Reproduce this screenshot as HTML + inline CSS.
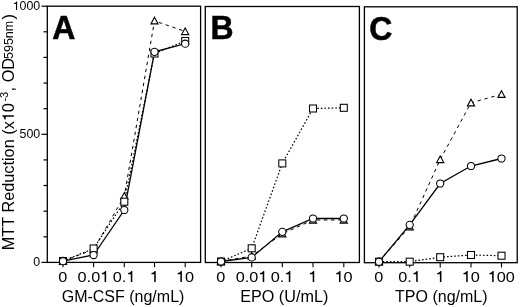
<!DOCTYPE html>
<html><head><meta charset="utf-8"><style>
html,body{margin:0;padding:0;background:#fff;}
svg{display:block;will-change:transform;}
text{font-family:"Liberation Sans",sans-serif;fill:#000;}
.xl{font-size:16px;}
.yt{font-size:16.3px;}
.sup{font-size:11px;}
.sub{font-size:12.5px;}
.pl{font-size:33.5px;font-weight:bold;stroke:#000;stroke-width:0.55px;}
</style></head><body>
<svg width="520" height="307" viewBox="0 0 520 307">
<rect width="520" height="307" fill="#fff"/>
<rect x="47.3" y="6.2" width="153.3" height="256.2" fill="none" stroke="#000" stroke-width="1.3"/>
<line x1="63" y1="262.4" x2="63" y2="267.2" stroke="#000" stroke-width="1.1"/>
<line x1="93.6" y1="262.4" x2="93.6" y2="267.2" stroke="#000" stroke-width="1.1"/>
<line x1="124.3" y1="262.4" x2="124.3" y2="267.2" stroke="#000" stroke-width="1.1"/>
<line x1="154.5" y1="262.4" x2="154.5" y2="267.2" stroke="#000" stroke-width="1.1"/>
<line x1="185.2" y1="262.4" x2="185.2" y2="267.2" stroke="#000" stroke-width="1.1"/>
<g transform="translate(62.80,281.90) scale(1.05,1)"><text x="-4.31" y="0" style="font-size:15.5px">0</text></g>
<g transform="translate(93.40,281.90) scale(1.05,1)"><text x="-15.08" y="0" style="font-size:15.5px">0.0 </text><path d="M0.272 0L0.366 0L0.366 0.703L0.298 0.703C0.282 0.638 0.222 0.585 0.105 0.572L0.105 0.5L0.272 0.5Z" transform="translate(6.46,0) scale(15.5,-15.5)"/></g>
<g transform="translate(124.10,281.90) scale(1.05,1)"><text x="-10.77" y="0" style="font-size:15.5px">0. </text><path d="M0.272 0L0.366 0L0.366 0.703L0.298 0.703C0.282 0.638 0.222 0.585 0.105 0.572L0.105 0.5L0.272 0.5Z" transform="translate(2.15,0) scale(15.5,-15.5)"/></g>
<g transform="translate(154.30,281.90) scale(1.05,1)"><text x="-4.31" y="0" style="font-size:15.5px"> </text><path d="M0.272 0L0.366 0L0.366 0.703L0.298 0.703C0.282 0.638 0.222 0.585 0.105 0.572L0.105 0.5L0.272 0.5Z" transform="translate(-4.31,0) scale(15.5,-15.5)"/></g>
<g transform="translate(185.00,281.90) scale(1.05,1)"><text x="-8.62" y="0" style="font-size:15.5px"> 0</text><path d="M0.272 0L0.366 0L0.366 0.703L0.298 0.703C0.282 0.638 0.222 0.585 0.105 0.572L0.105 0.5L0.272 0.5Z" transform="translate(-8.62,0) scale(15.5,-15.5)"/></g>
<text x="61.7" y="302.1" class="xl" style="font-size:16px">GM-CSF (ng/mL)</text>
<text transform="translate(52.2,39.3) scale(0.955,1)" x="0" y="0" class="pl">A</text>
<polyline points="63.0,261.0 93.6,248.5 124.3,201.7 154.5,53.5 185.2,41.0" fill="none" stroke="#000" stroke-width="1.2" stroke-dasharray="1.6 2"/>
<polyline points="63.0,261.0 93.6,249.5 124.3,196.2 154.5,20.8 185.2,31.5" fill="none" stroke="#000" stroke-width="1.0" stroke-dasharray="3.4 3.7"/>
<polyline points="63.0,261.2 93.6,255.0 124.3,210.0 154.5,51.8 185.2,43.7" fill="none" stroke="#000" stroke-width="1.3"/>
<path d="M63.0,257.4 L66.6,264.1 L59.4,264.1 Z" fill="#fff" stroke="#000" stroke-width="1.1"/>
<path d="M93.6,245.9 L97.2,252.6 L90.0,252.6 Z" fill="#fff" stroke="#000" stroke-width="1.1"/>
<path d="M124.3,192.6 L127.9,199.3 L120.7,199.3 Z" fill="#fff" stroke="#000" stroke-width="1.1"/>
<path d="M154.5,17.2 L158.1,23.9 L150.9,23.9 Z" fill="#fff" stroke="#000" stroke-width="1.1"/>
<path d="M185.2,27.9 L188.8,34.6 L181.6,34.6 Z" fill="#fff" stroke="#000" stroke-width="1.1"/>
<rect x="59.5" y="257.5" width="7" height="7" fill="#fff" stroke="#000" stroke-width="1.05"/>
<rect x="90.1" y="245.0" width="7" height="7" fill="#fff" stroke="#000" stroke-width="1.05"/>
<rect x="120.8" y="198.2" width="7" height="7" fill="#fff" stroke="#000" stroke-width="1.05"/>
<rect x="151.0" y="50.0" width="7" height="7" fill="#fff" stroke="#000" stroke-width="1.05"/>
<rect x="181.7" y="37.5" width="7" height="7" fill="#fff" stroke="#000" stroke-width="1.05"/>
<circle cx="63" cy="261.2" r="3.6" fill="#fff" stroke="#000" stroke-width="1.05"/>
<circle cx="93.6" cy="255.0" r="3.6" fill="#fff" stroke="#000" stroke-width="1.05"/>
<circle cx="124.3" cy="210.0" r="3.6" fill="#fff" stroke="#000" stroke-width="1.05"/>
<circle cx="154.5" cy="51.8" r="3.6" fill="#fff" stroke="#000" stroke-width="1.05"/>
<circle cx="185.2" cy="43.7" r="3.6" fill="#fff" stroke="#000" stroke-width="1.05"/>
<rect x="205.3" y="6.5" width="154.1" height="256.0" fill="none" stroke="#000" stroke-width="1.3"/>
<line x1="221" y1="262.5" x2="221" y2="267.3" stroke="#000" stroke-width="1.1"/>
<line x1="251.7" y1="262.5" x2="251.7" y2="267.3" stroke="#000" stroke-width="1.1"/>
<line x1="282.3" y1="262.5" x2="282.3" y2="267.3" stroke="#000" stroke-width="1.1"/>
<line x1="313.0" y1="262.5" x2="313.0" y2="267.3" stroke="#000" stroke-width="1.1"/>
<line x1="343.8" y1="262.5" x2="343.8" y2="267.3" stroke="#000" stroke-width="1.1"/>
<g transform="translate(220.80,281.90) scale(1.05,1)"><text x="-4.31" y="0" style="font-size:15.5px">0</text></g>
<g transform="translate(251.50,281.90) scale(1.05,1)"><text x="-15.08" y="0" style="font-size:15.5px">0.0 </text><path d="M0.272 0L0.366 0L0.366 0.703L0.298 0.703C0.282 0.638 0.222 0.585 0.105 0.572L0.105 0.5L0.272 0.5Z" transform="translate(6.46,0) scale(15.5,-15.5)"/></g>
<g transform="translate(282.10,281.90) scale(1.05,1)"><text x="-10.77" y="0" style="font-size:15.5px">0. </text><path d="M0.272 0L0.366 0L0.366 0.703L0.298 0.703C0.282 0.638 0.222 0.585 0.105 0.572L0.105 0.5L0.272 0.5Z" transform="translate(2.15,0) scale(15.5,-15.5)"/></g>
<g transform="translate(312.80,281.90) scale(1.05,1)"><text x="-4.31" y="0" style="font-size:15.5px"> </text><path d="M0.272 0L0.366 0L0.366 0.703L0.298 0.703C0.282 0.638 0.222 0.585 0.105 0.572L0.105 0.5L0.272 0.5Z" transform="translate(-4.31,0) scale(15.5,-15.5)"/></g>
<g transform="translate(343.60,281.90) scale(1.05,1)"><text x="-8.62" y="0" style="font-size:15.5px"> 0</text><path d="M0.272 0L0.366 0L0.366 0.703L0.298 0.703C0.282 0.638 0.222 0.585 0.105 0.572L0.105 0.5L0.272 0.5Z" transform="translate(-8.62,0) scale(15.5,-15.5)"/></g>
<text x="240.2" y="302.1" class="xl" style="font-size:16.2px">EPO (U/mL)</text>
<text transform="translate(210.6,39.3) scale(0.955,1)" x="0" y="0" class="pl">B</text>
<polyline points="221.0,261.5 251.7,248.3 282.3,163.4 313.0,108.5 343.8,107.8" fill="none" stroke="#000" stroke-width="1.2" stroke-dasharray="1.6 2"/>
<polyline points="221.0,261.5 251.7,256.0 282.3,233.8 313.0,220.0 343.8,220.0" fill="none" stroke="#000" stroke-width="1.0" stroke-dasharray="3.4 3.7"/>
<polyline points="221.0,261.5 251.7,257.4 282.3,231.8 313.0,218.5 343.8,218.5" fill="none" stroke="#000" stroke-width="1.3"/>
<path d="M221.0,257.9 L224.6,264.6 L217.4,264.6 Z" fill="#fff" stroke="#000" stroke-width="1.1"/>
<path d="M251.7,252.4 L255.3,259.1 L248.1,259.1 Z" fill="#fff" stroke="#000" stroke-width="1.1"/>
<path d="M282.3,230.2 L285.9,236.9 L278.7,236.9 Z" fill="#fff" stroke="#000" stroke-width="1.1"/>
<path d="M313.0,216.4 L316.6,223.1 L309.4,223.1 Z" fill="#fff" stroke="#000" stroke-width="1.1"/>
<path d="M343.8,216.4 L347.4,223.1 L340.2,223.1 Z" fill="#fff" stroke="#000" stroke-width="1.1"/>
<rect x="217.5" y="258.0" width="7" height="7" fill="#fff" stroke="#000" stroke-width="1.05"/>
<rect x="248.2" y="244.8" width="7" height="7" fill="#fff" stroke="#000" stroke-width="1.05"/>
<rect x="278.8" y="159.9" width="7" height="7" fill="#fff" stroke="#000" stroke-width="1.05"/>
<rect x="309.5" y="105.0" width="7" height="7" fill="#fff" stroke="#000" stroke-width="1.05"/>
<rect x="340.3" y="104.3" width="7" height="7" fill="#fff" stroke="#000" stroke-width="1.05"/>
<circle cx="221" cy="261.5" r="3.6" fill="#fff" stroke="#000" stroke-width="1.05"/>
<circle cx="251.7" cy="257.4" r="3.6" fill="#fff" stroke="#000" stroke-width="1.05"/>
<circle cx="282.3" cy="231.8" r="3.6" fill="#fff" stroke="#000" stroke-width="1.05"/>
<circle cx="313.0" cy="218.5" r="3.6" fill="#fff" stroke="#000" stroke-width="1.05"/>
<circle cx="343.8" cy="218.5" r="3.6" fill="#fff" stroke="#000" stroke-width="1.05"/>
<rect x="364.4" y="6.8" width="152.8" height="255.9" fill="none" stroke="#000" stroke-width="1.3"/>
<line x1="379" y1="262.7" x2="379" y2="267.5" stroke="#000" stroke-width="1.1"/>
<line x1="409.7" y1="262.7" x2="409.7" y2="267.5" stroke="#000" stroke-width="1.1"/>
<line x1="440.2" y1="262.7" x2="440.2" y2="267.5" stroke="#000" stroke-width="1.1"/>
<line x1="471.0" y1="262.7" x2="471.0" y2="267.5" stroke="#000" stroke-width="1.1"/>
<line x1="501.5" y1="262.7" x2="501.5" y2="267.5" stroke="#000" stroke-width="1.1"/>
<g transform="translate(378.80,281.90) scale(1.05,1)"><text x="-4.31" y="0" style="font-size:15.5px">0</text></g>
<g transform="translate(409.50,281.90) scale(1.05,1)"><text x="-10.77" y="0" style="font-size:15.5px">0. </text><path d="M0.272 0L0.366 0L0.366 0.703L0.298 0.703C0.282 0.638 0.222 0.585 0.105 0.572L0.105 0.5L0.272 0.5Z" transform="translate(2.15,0) scale(15.5,-15.5)"/></g>
<g transform="translate(440.00,281.90) scale(1.05,1)"><text x="-4.31" y="0" style="font-size:15.5px"> </text><path d="M0.272 0L0.366 0L0.366 0.703L0.298 0.703C0.282 0.638 0.222 0.585 0.105 0.572L0.105 0.5L0.272 0.5Z" transform="translate(-4.31,0) scale(15.5,-15.5)"/></g>
<g transform="translate(470.80,281.90) scale(1.05,1)"><text x="-8.62" y="0" style="font-size:15.5px"> 0</text><path d="M0.272 0L0.366 0L0.366 0.703L0.298 0.703C0.282 0.638 0.222 0.585 0.105 0.572L0.105 0.5L0.272 0.5Z" transform="translate(-8.62,0) scale(15.5,-15.5)"/></g>
<g transform="translate(501.30,281.90) scale(1.05,1)"><text x="-12.93" y="0" style="font-size:15.5px"> 00</text><path d="M0.272 0L0.366 0L0.366 0.703L0.298 0.703C0.282 0.638 0.222 0.585 0.105 0.572L0.105 0.5L0.272 0.5Z" transform="translate(-12.93,0) scale(15.5,-15.5)"/></g>
<text x="395.1" y="302.1" class="xl" style="font-size:16px">TPO (ng/mL)</text>
<text transform="translate(369.2,39.7) scale(0.955,1)" x="0" y="0" class="pl">C</text>
<polyline points="379.0,261.7 409.7,261.7 440.2,257.2 471.0,255.0 501.5,255.7" fill="none" stroke="#000" stroke-width="1.2" stroke-dasharray="1.6 2"/>
<polyline points="379.0,261.7 409.7,226.8 440.2,159.5 471.0,102.8 501.5,94.3" fill="none" stroke="#000" stroke-width="1.0" stroke-dasharray="3.4 3.7"/>
<polyline points="379.0,261.7 409.7,224.8 440.2,183.5 471.0,166.0 501.5,158.5" fill="none" stroke="#000" stroke-width="1.3"/>
<path d="M379.0,258.1 L382.6,264.8 L375.4,264.8 Z" fill="#fff" stroke="#000" stroke-width="1.1"/>
<path d="M409.7,223.2 L413.3,229.9 L406.1,229.9 Z" fill="#fff" stroke="#000" stroke-width="1.1"/>
<path d="M440.2,155.9 L443.8,162.6 L436.6,162.6 Z" fill="#fff" stroke="#000" stroke-width="1.1"/>
<path d="M471.0,99.2 L474.6,105.9 L467.4,105.9 Z" fill="#fff" stroke="#000" stroke-width="1.1"/>
<path d="M501.5,90.7 L505.1,97.4 L497.9,97.4 Z" fill="#fff" stroke="#000" stroke-width="1.1"/>
<rect x="375.5" y="258.2" width="7" height="7" fill="#fff" stroke="#000" stroke-width="1.05"/>
<rect x="406.2" y="258.2" width="7" height="7" fill="#fff" stroke="#000" stroke-width="1.05"/>
<rect x="436.7" y="253.7" width="7" height="7" fill="#fff" stroke="#000" stroke-width="1.05"/>
<rect x="467.5" y="251.5" width="7" height="7" fill="#fff" stroke="#000" stroke-width="1.05"/>
<rect x="498.0" y="252.2" width="7" height="7" fill="#fff" stroke="#000" stroke-width="1.05"/>
<circle cx="379" cy="261.7" r="3.6" fill="#fff" stroke="#000" stroke-width="1.05"/>
<circle cx="409.7" cy="224.8" r="3.6" fill="#fff" stroke="#000" stroke-width="1.05"/>
<circle cx="440.2" cy="183.5" r="3.6" fill="#fff" stroke="#000" stroke-width="1.05"/>
<circle cx="471.0" cy="166.0" r="3.6" fill="#fff" stroke="#000" stroke-width="1.05"/>
<circle cx="501.5" cy="158.5" r="3.6" fill="#fff" stroke="#000" stroke-width="1.05"/>
<line x1="41.5" y1="262.4" x2="47.3" y2="262.4" stroke="#000" stroke-width="1.2"/>
<line x1="43.5" y1="236.8" x2="47.3" y2="236.8" stroke="#000" stroke-width="1.2"/>
<line x1="43.5" y1="211.2" x2="47.3" y2="211.2" stroke="#000" stroke-width="1.2"/>
<line x1="43.5" y1="185.5" x2="47.3" y2="185.5" stroke="#000" stroke-width="1.2"/>
<line x1="43.5" y1="159.9" x2="47.3" y2="159.9" stroke="#000" stroke-width="1.2"/>
<line x1="41.5" y1="134.3" x2="47.3" y2="134.3" stroke="#000" stroke-width="1.2"/>
<line x1="43.5" y1="108.7" x2="47.3" y2="108.7" stroke="#000" stroke-width="1.2"/>
<line x1="43.5" y1="83.1" x2="47.3" y2="83.1" stroke="#000" stroke-width="1.2"/>
<line x1="43.5" y1="57.4" x2="47.3" y2="57.4" stroke="#000" stroke-width="1.2"/>
<line x1="43.5" y1="31.8" x2="47.3" y2="31.8" stroke="#000" stroke-width="1.2"/>
<line x1="41.5" y1="6.2" x2="47.3" y2="6.2" stroke="#000" stroke-width="1.2"/>
<g transform="translate(40.20,266.30) scale(1.0,1)"><text x="-6.90" y="0" style="font-size:12.4px">0</text></g>
<g transform="translate(40.20,138.20) scale(1.0,1)"><text x="-20.69" y="0" style="font-size:12.4px">500</text></g>
<g transform="translate(40.20,10.10) scale(1.0,1)"><text x="-27.59" y="0" style="font-size:12.4px"> 000</text><path d="M0.272 0L0.366 0L0.366 0.703L0.298 0.703C0.282 0.638 0.222 0.585 0.105 0.572L0.105 0.5L0.272 0.5Z" transform="translate(-27.59,0) scale(12.4,-12.4)"/></g>
<g transform="rotate(-90)">
<text x="-250.3" y="13.8" class="yt">MTT Reduction (x 0</text>
<path d="M0.272 0L0.366 0L0.366 0.703L0.298 0.703C0.282 0.638 0.222 0.585 0.105 0.572L0.105 0.5L0.272 0.5Z" transform="translate(-121.21,13.8) scale(16.3,-16.3)"/>
<text x="-101.6" y="7.7" class="sup">-3</text>
<text x="-91.4" y="13.8" class="yt">, OD</text>
<text x="-59.0" y="13.4" class="sub">595nm</text>
<text x="-19.6" y="13.8" class="yt">)</text>
</g>
</svg>
</body></html>
